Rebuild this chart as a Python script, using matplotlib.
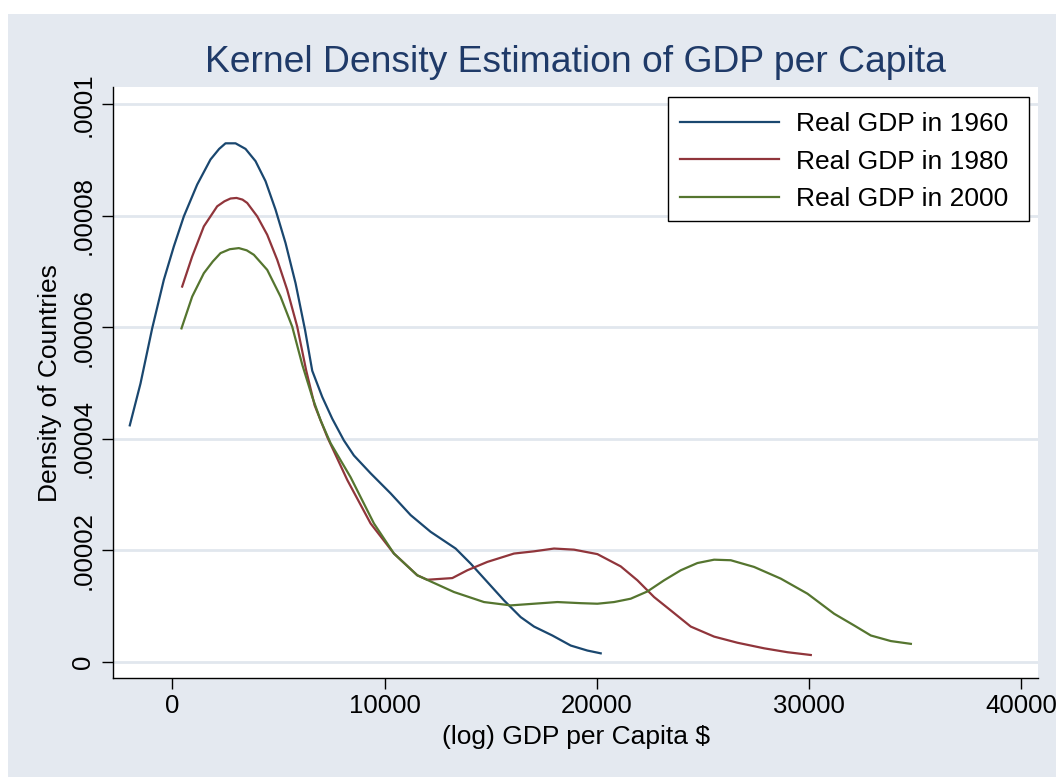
import matplotlib
matplotlib.use("Agg")
import matplotlib.pyplot as plt
from matplotlib.patches import Rectangle
from matplotlib.ticker import FixedLocator, FixedFormatter

plt.rcParams['font.family'] = ['Liberation Sans', 'DejaVu Sans']

# ---- data (density in units of 1e-5) ----
gdp_1960 = [-2014, -1509, -958, -409, 63, 535, 1164, 1792, 2200, 2500, 2972, 3443, 3915, 4387,
            4858, 5330, 5802, 6250, 6588, 7060, 7531, 8080, 8552, 9340, 10283, 11227,
            12170, 13349, 14057, 14843, 15629, 16415, 17045, 17909, 18774, 19560, 20189]
dens_1960 = [4.24, 4.99, 5.98, 6.85, 7.45, 7.99, 8.56, 9.01, 9.20, 9.30, 9.30, 9.20, 8.98, 8.62,
             8.11, 7.51, 6.79, 5.95, 5.22, 4.75, 4.36, 3.97, 3.70, 3.38, 3.02, 2.63,
             2.33, 2.03, 1.76, 1.43, 1.10, 0.80, 0.63, 0.47, 0.29, 0.20, 0.15]

gdp_1980 = [456, 928, 1478, 2107, 2450, 2736, 3019, 3300, 3522, 3993, 4465, 4937, 5409, 5881,
            6300, 6700, 7297, 8240, 9340, 10440, 11541, 12013, 13192, 13900, 14843, 16100,
            17045, 17988, 18931, 20032, 21132, 21919, 22704, 23491, 24434, 25535, 26636,
            27893, 28994, 30094]
dens_1980 = [6.73, 7.27, 7.81, 8.17, 8.26, 8.31, 8.32, 8.29, 8.23, 7.99, 7.66, 7.21, 6.67, 6.01,
             5.23, 4.60, 4.03, 3.26, 2.48, 1.94, 1.55, 1.47, 1.50, 1.64, 1.79, 1.94,
             1.98, 2.03, 2.01, 1.93, 1.71, 1.46, 1.16, 0.92, 0.63, 0.45, 0.34,
             0.24, 0.17, 0.12]

gdp_2000 = [424, 928, 1478, 1900, 2264, 2700, 3129, 3500, 3836, 4465, 5094, 5645, 6117, 6588,
            6982, 7453, 8396, 9497, 10440, 11541, 12170, 13270, 14685, 15944, 17045, 18146,
            19245, 20032, 20818, 21604, 22390, 23177, 23963, 24750, 25535, 26321, 27420,
            28679, 29937, 31195, 32138, 32925, 33868, 34812]
dens_2000 = [5.98, 6.55, 6.97, 7.18, 7.33, 7.40, 7.42, 7.38, 7.30, 7.03, 6.55, 6.01, 5.33, 4.75,
             4.33, 3.92, 3.31, 2.48, 1.94, 1.55, 1.44, 1.25, 1.07, 1.01, 1.04, 1.07,
             1.05, 1.04, 1.07, 1.13, 1.26, 1.46, 1.64, 1.77, 1.83, 1.82, 1.70,
             1.49, 1.22, 0.86, 0.65, 0.47, 0.37, 0.32]

series_labels = ["Real GDP in 1960", "Real GDP in 1980", "Real GDP in 2000"]
x_ticks = [0, 10000, 20000, 30000, 40000]
x_tick_labels = ["0", "10000", "20000", "30000", "40000"]
y_ticks = [0, 0.00002, 0.00004, 0.00006, 0.00008, 0.0001]
y_tick_labels = ["0", ".00002", ".00004", ".00006", ".00008", ".0001"]

title = "Kernel Density Estimation of GDP per Capita"
x_label = "(log) GDP per Capita $"
y_label = "Density of Countries"

# ---- figure ----
W, H = 1056, 777
fig = plt.figure(figsize=(W / 100, H / 100), dpi=100, facecolor="white")
bg = "#e4e9f0"
fig.patches.append(Rectangle((8 / W, 0), 1 - 8 / W, 1 - 14 / H, transform=fig.transFigure,
                             facecolor=bg, edgecolor="none", zorder=-10))

left, right, top, bottom = 113.3, 1038.3, 87.3, 678.3
ax = fig.add_axes([left / W, 1 - bottom / H, (right - left) / W, (bottom - top) / H])
ax.set_zorder(1)
ax.set_facecolor("white")

colors = ["#1a476f", "#90353b", "#55752f"]
scale = 1e-5
for xs, ds, c, lab in zip([gdp_1960, gdp_1980, gdp_2000],
                          [dens_1960, dens_1980, dens_2000], colors, series_labels):
    ax.plot(xs, [d * scale for d in ds], color=c, lw=1.6, label=lab,
            solid_joinstyle="round", zorder=3)

ax.set_xlim(-2791, 40820)
ax.set_ylim(-2.98e-6, 103.05e-6)

ax.xaxis.set_major_locator(FixedLocator(x_ticks))
ax.xaxis.set_major_formatter(FixedFormatter(x_tick_labels))
ax.yaxis.set_major_locator(FixedLocator(y_ticks))
ax.yaxis.set_major_formatter(FixedFormatter(y_tick_labels))

ax.grid(axis="y", color="#e1e7ee", lw=2.0, zorder=1)
ax.set_axisbelow(True)
for s in ["top", "right"]:
    ax.spines[s].set_visible(False)
for s in ["left", "bottom"]:
    ax.spines[s].set_color("black")
    ax.spines[s].set_linewidth(1.0)

ax.tick_params(axis="both", direction="out", length=8, width=1.0, color="black",
               labelsize=18.5, labelcolor="black")
ax.tick_params(axis="x", pad=3.5)
ax.tick_params(axis="y", pad=5)
for lbl in ax.get_yticklabels():
    lbl.set_rotation(90)
    lbl.set_va("center")
    lbl.set_ha("right")

fig.text(575.5 / W, 1 - 71.7 / H, title, ha="center", va="baseline",
         fontsize=26.8, color="#1f3a68")
fig.text(575.5 / W, 1 - 744 / H, x_label, ha="center", va="baseline", fontsize=19)
fig.text(50 / W, 1 - 383 / H, y_label, ha="center", va="center", rotation=90, fontsize=19)

# legend frame (fixed box) and entries
lx0, ly0, lx1, ly1 = 668, 97, 1029, 221
fig.patches.append(Rectangle((lx0 / W, 1 - ly1 / H), (lx1 - lx0) / W, (ly1 - ly0) / H,
                             transform=fig.transFigure, facecolor="white",
                             edgecolor="black", lw=1.0, zorder=5))
handles, labels = ax.get_legend_handles_labels()
leg = fig.legend(handles, labels, loc="upper left",
                 bbox_to_anchor=(lx0 / W, 1 - (ly0 + 3.5) / H),
                 bbox_transform=fig.transFigure, borderaxespad=0, fontsize=19,
                 frameon=False, handlelength=3.75, handletextpad=0.64,
                 labelspacing=0.5, borderpad=0.45)
leg.set_zorder(6)

fig.savefig("out.png", dpi=100, facecolor="white")
